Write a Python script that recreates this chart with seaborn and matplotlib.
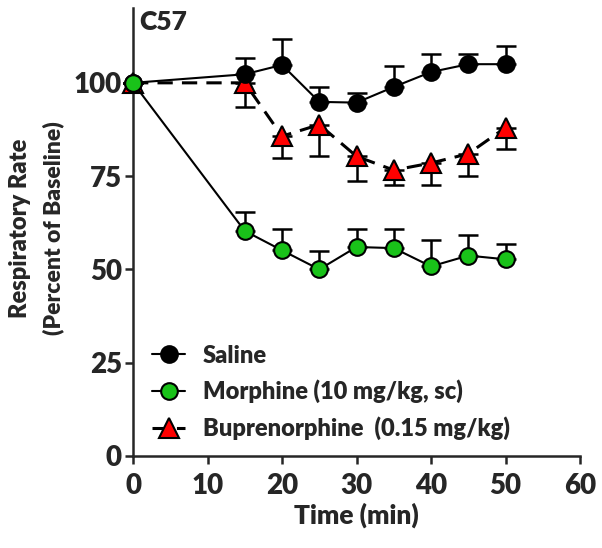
import numpy as np
import pandas as pd
import matplotlib
matplotlib.use("Agg")
import matplotlib.pyplot as plt
from matplotlib.lines import Line2D
import seaborn as sns

# data
time = [0, 15, 20, 25, 30, 35, 40, 45, 50]

saline = [100, 102.3, 104.8, 94.9, 94.7, 98.9, 102.9, 105.0, 105.0]
saline_err = [0, 4.3, 7.0, 4.0, 2.7, 5.6, 4.8, 2.7, 4.9]

morphine = [100, 60.3, 55.1, 50.0, 56.0, 55.7, 50.8, 53.7, 52.7]
morphine_err = [0, 5.0, 5.7, 5.0, 4.8, 5.1, 7.1, 5.6, 4.2]

bup = [100, 100.0, 85.7, 88.8, 80.3, 76.6, 78.5, 81.0, 88.0]
bup_err = [0, 6.5, 5.8, 8.3, 6.7, 3.9, 5.8, 5.9, 5.7]

labels = ['Saline', 'Morphine (10 mg/kg, sc)', 'Buprenorphine  (0.15 mg/kg)']

sns.set_style("ticks")
plt.rcParams['font.family'] = ['Lato', 'DejaVu Sans']
W = 'heavy'
plt.rcParams['font.weight'] = W

df = pd.DataFrame({'time': time * 3,
                   'value': saline + morphine + bup,
                   'group': [labels[0]] * 9 + [labels[1]] * 9 + [labels[2]] * 9})

fig = plt.figure(figsize=(6.02, 5.48), dpi=100)
ax = fig.add_axes([0.221, 0.168, 0.7425, 0.817])

zeros = [0] * len(time)
err_kw = dict(fmt='none', ecolor='black', elinewidth=1.8, capsize=7, capthick=1.8, clip_on=False)

# buprenorphine (bottom layer), error bars downward
ax.errorbar(time, bup, yerr=[bup_err, zeros], zorder=2, **err_kw)
sns.lineplot(data=df[df.group == labels[2]], x='time', y='value', ax=ax,
             color='black', linewidth=2.2, linestyle=(0, (5, 3)),
             marker='^', markersize=15, markerfacecolor='#ff0000', markeredgecolor='black',
             markeredgewidth=1.5, zorder=3, clip_on=False, legend=False)

# saline, error bars upward
ax.errorbar(time, saline, yerr=[zeros, saline_err], zorder=4, **err_kw)
sns.lineplot(data=df[df.group == labels[0]], x='time', y='value', ax=ax,
             color='black', linewidth=1.5,
             marker='o', markersize=12, markerfacecolor='black', markeredgecolor='black',
             markeredgewidth=1.5, zorder=5, clip_on=False, legend=False)

# morphine (top layer), error bars upward
ax.errorbar(time, morphine, yerr=[zeros, morphine_err], zorder=6, **err_kw)
sns.lineplot(data=df[df.group == labels[1]], x='time', y='value', ax=ax,
             color='black', linewidth=1.5,
             marker='o', markersize=12, markerfacecolor='#19c219', markeredgecolor='black',
             markeredgewidth=1.5, zorder=7, clip_on=False, legend=False)

ax.set_xlim(0, 60)
ax.set_ylim(0, 120)
ax.set_xticks(range(0, 61, 10))
ax.set_yticks([0, 25, 50, 75, 100])
sns.despine(ax=ax)
for s in ['left', 'bottom']:
    ax.spines[s].set_linewidth(1.8)
ax.tick_params(width=1.8, length=6, labelsize=20)
ax.tick_params(axis='x', pad=6)
ax.tick_params(axis='y', pad=2)
for t in ax.get_xticklabels() + ax.get_yticklabels():
    t.set_fontweight(W)

ax.set_xlabel('Time (min)', fontsize=19, fontweight=W, labelpad=3)
ax.set_ylabel('')
fig.text(0.033, 0.584, 'Respiratory Rate', rotation=90, ha='center', va='center',
         fontsize=17, fontweight=W)
fig.text(0.088, 0.584, '(Percent of Baseline)', rotation=90, ha='center', va='center',
         fontsize=16.5, fontweight=W)
ax.text(0.015, 0.995, 'C57', transform=ax.transAxes, ha='left', va='top',
        fontsize=19, fontweight=W)

handles = [
    Line2D([], [], color='black', lw=1.5, marker='o', markersize=12,
           markerfacecolor='black', markeredgecolor='black', markeredgewidth=1.5),
    Line2D([], [], color='black', lw=1.5, marker='o', markersize=12,
           markerfacecolor='#19c219', markeredgecolor='black', markeredgewidth=1.5),
    Line2D([], [], color='black', lw=2.2, linestyle=(0, (5, 3)), marker='^', markersize=15,
           markerfacecolor='#ff0000', markeredgecolor='black', markeredgewidth=1.5),
]
ax.legend(handles, labels, loc='lower left', bbox_to_anchor=(-0.005, -0.012), frameon=False,
          handlelength=1.4, handletextpad=0.75, labelspacing=0.55,
          prop={'weight': W, 'size': 17})

fig.savefig('out.png', dpi=100)
